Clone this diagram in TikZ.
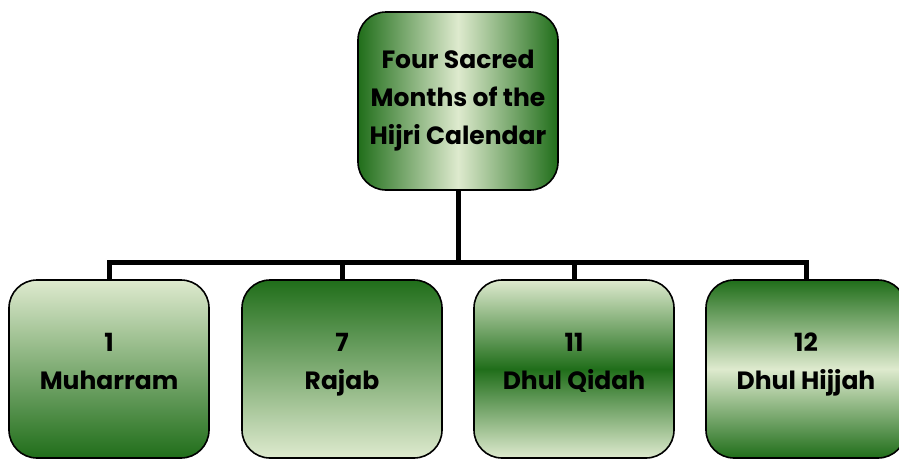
\documentclass[tikz,border=0pt]{standalone}
\usepackage{fontspec}
\setmainfont{Poppins}
\definecolor{dkg}{RGB}{32,110,26}
\definecolor{ltg}{RGB}{222,234,206}
\newcommand{\uplift}[1]{\raisebox{6pt}[\height][\depth]{\begin{tabular}{c}#1\end{tabular}}}
\begin{document}
\begin{tikzpicture}[x=1pt,y=-1pt,
  box/.style={draw=black, line width=1.6pt, rounded corners=28pt,
    minimum width=200pt, minimum height=178pt, inner sep=0pt, align=center,
    font=\bfseries\fontsize{25}{38}\selectfont},
  conn/.style={draw=black, line width=5pt},
  hdl/.style={left color=dkg, right color=dkg, middle color=ltg},
  ltdk/.style={top color=ltg, bottom color=dkg},
  dklt/.style={top color=dkg, bottom color=ltg},
  ldl/.style={top color=ltg, bottom color=ltg, middle color=dkg},
  dld/.style={top color=dkg, bottom color=dkg, middle color=ltg}]
\useasboundingbox (0,0) rectangle (899,458);
\coordinate (bus) at (458,262);
\node[box, hdl] (top) at (458,101) {Four Sacred\\Months of the\\Hijri Calendar};
\node[box, ltdk] (b1) at (109,369) {\uplift{1\\Muharram}};
\node[box, dklt] (b2) at (342,369) {\uplift{7\\Rajab}};
\node[box, ldl] (b3) at (574,369) {\uplift{11\\Dhul Qidah}};
\node[box, dld] (b4) at (806,369) {\uplift{12\\Dhul Hijjah}};
\draw[conn] (top.south) -- (top.south |- bus);
\draw[conn] (b1.north) -- (b1.north |- bus) -- (b4.north |- bus) -- (b4.north);
\draw[conn] (b2.north) -- (b2.north |- bus);
\draw[conn] (b3.north) -- (b3.north |- bus);
\end{tikzpicture}
\end{document}
